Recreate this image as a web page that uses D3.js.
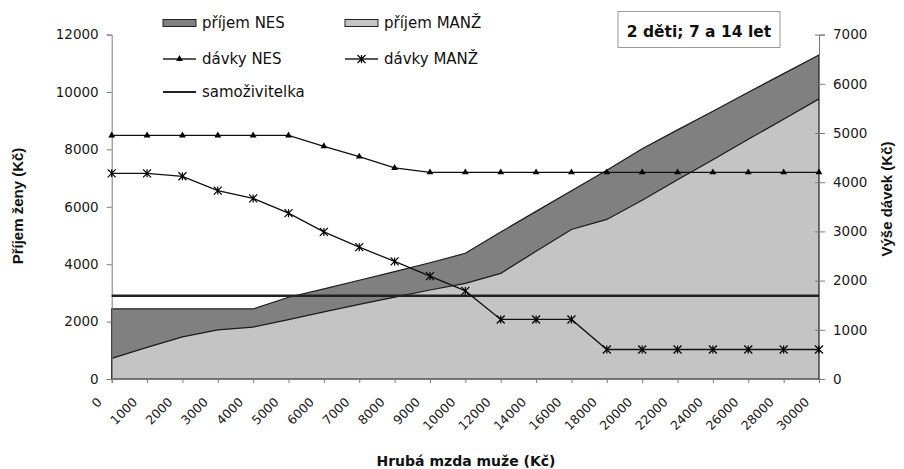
<!DOCTYPE html>
<html>
<head>
<meta charset="utf-8">
<script src="https://cdn.jsdelivr.net/npm/d3@7"></script>
<style>
  body { margin: 0; background: #fff; }
  svg { display: block; font-family: 'DejaVu Sans', sans-serif; }
</style>
</head>
<body>
<svg id="chart" width="904" height="469"></svg>
<script>
// gross wage of the man (x categories)
const wages = ['0', '1000', '2000', '3000', '4000', '5000', '6000', '7000', '8000', '9000', '10000',
  '12000', '14000', '16000', '18000', '20000', '22000', '24000', '26000', '28000', '30000'];

// woman's income, left axis
const incomeNES = [2440, 2440, 2440, 2440, 2440, 2850, 3140, 3440, 3740, 4050, 4380,
  5120, 5840, 6560, 7270, 8020, 8680, 9330, 9990, 10640, 11290];
const incomeMANZ = [720, 1100, 1470, 1710, 1810, 2070, 2340, 2600, 2850, 3100, 3330,
  3680, 4450, 5210, 5560, 6230, 6940, 7640, 8350, 9050, 9760];
const singleMother = [2900, 2900, 2900, 2900, 2900, 2900, 2900, 2900, 2900, 2900, 2900,
  2900, 2900, 2900, 2900, 2900, 2900, 2900, 2900, 2900, 2900];

// benefits, right axis
const benefitNES = [4950, 4950, 4950, 4950, 4950, 4950, 4730, 4520, 4290, 4200, 4200,
  4200, 4200, 4200, 4200, 4200, 4200, 4200, 4200, 4200, 4200];
const benefitMANZ = [4180, 4180, 4120, 3830, 3670, 3370, 2990, 2680, 2390, 2090, 1790,
  1210, 1210, 1210, 600, 600, 600, 600, 600, 600, 600];

const leftTicks = [0, 2000, 4000, 6000, 8000, 10000, 12000];
const rightTicks = [0, 1000, 2000, 3000, 4000, 5000, 6000, 7000];

var svg = d3.select('#chart');
var plotL = 111.7, plotR = 819, plotT = 34.6, plotB = 379;

var x = d3.scalePoint().domain(wages).range([plotL, plotR]);
var yL = d3.scaleLinear().domain([0, 12000]).range([plotB, plotT]);
var yR = d3.scaleLinear().domain([0, 7000]).range([plotB, plotT]);

// areas (not stacked, MANŽ drawn over NES)
var area = d3.area()
  .x((d, i) => x(wages[i]))
  .y0(yL(0))
  .y1(d => yL(d));

svg.append('path').datum(incomeNES)
  .attr('d', area)
  .attr('fill', '#808080')
  .attr('stroke', '#1a1a1a')
  .attr('stroke-width', 1.2);

svg.append('path').datum(incomeMANZ)
  .attr('d', area)
  .attr('fill', '#c4c4c4')
  .attr('stroke', '#1a1a1a')
  .attr('stroke-width', 1.2);

// axes
var axL = svg.append('g')
  .attr('transform', 'translate(' + plotL + ',0)')
  .call(d3.axisLeft(yL).tickValues(leftTicks).tickSize(5).tickPadding(8).tickFormat(d3.format('d')));
var axR = svg.append('g')
  .attr('transform', 'translate(' + plotR + ',0)')
  .call(d3.axisRight(yR).tickValues(rightTicks).tickSize(6).tickPadding(8).tickFormat(d3.format('d')));
axR.selectAll('.tick line').attr('x1', -4);
var axB = svg.append('g')
  .attr('transform', 'translate(0,' + plotB + ')')
  .call(d3.axisBottom(x).tickSize(4).tickFormat(''));

[axL, axR, axB].forEach(a => {
  a.select('.domain').attr('stroke', '#7a7a7a');
  a.selectAll('.tick line').attr('stroke', '#7a7a7a');
  a.selectAll('text').attr('fill', '#1a1a1a').style('font-family', 'DejaVu Sans').style('font-size', '13.5px');
});

// rotated wage labels
svg.append('g').selectAll('text')
  .data(wages).enter()
  .append('text')
  .attr('transform', d => 'translate(' + (x(d) - 9) + ',403) rotate(-45)')
  .attr('text-anchor', 'end')
  .attr('fill', '#1a1a1a')
  .style('font-size', '12.5px')
  .text(d => d);

// single mother line
var lineL = d3.line().x((d, i) => x(wages[i])).y(d => yL(d));
svg.append('path').datum(singleMother)
  .attr('d', lineL)
  .attr('fill', 'none')
  .attr('stroke', '#222')
  .attr('stroke-width', 2.4);

// benefit lines
var lineR = d3.line().x((d, i) => x(wages[i])).y(d => yR(d));
svg.append('path').datum(benefitNES)
  .attr('d', lineR).attr('fill', 'none').attr('stroke', '#111').attr('stroke-width', 1.3);
svg.append('path').datum(benefitMANZ)
  .attr('d', lineR).attr('fill', 'none').attr('stroke', '#111').attr('stroke-width', 1.3);

var tri = d3.symbol().type(d3.symbolTriangle).size(20);
var star = 'M-4,-4L4,4M-4,4L4,-4M0,-4L0,4';

svg.append('g').selectAll('path')
  .data(benefitNES).enter()
  .append('path')
  .attr('d', tri)
  .attr('transform', (d, i) => 'translate(' + x(wages[i]) + ',' + yR(d) + ')')
  .attr('fill', '#000');

svg.append('g').selectAll('path')
  .data(benefitMANZ).enter()
  .append('path')
  .attr('d', star)
  .attr('transform', (d, i) => 'translate(' + x(wages[i]) + ',' + yR(d) + ')')
  .attr('fill', 'none')
  .attr('stroke', '#000')
  .attr('stroke-width', 1.2);

// axis titles
svg.append('text')
  .attr('transform', 'translate(23,206) rotate(-90)')
  .attr('text-anchor', 'middle')
  .style('font-family', 'Liberation Sans, Arial, sans-serif')
  .style('font-weight', 'bold')
  .style('font-size', '15px')
  .attr('fill', '#111')
  .text('Příjem ženy (Kč)');

svg.append('text')
  .attr('transform', 'translate(892,199) rotate(-90)')
  .attr('text-anchor', 'middle')
  .style('font-family', 'Liberation Sans, Arial, sans-serif')
  .style('font-weight', 'bold')
  .style('font-size', '15px')
  .attr('fill', '#111')
  .text('Výše dávek (Kč)');

svg.append('text')
  .attr('x', 466)
  .attr('y', 466)
  .attr('text-anchor', 'middle')
  .style('font-weight', 'bold')
  .style('font-size', '14px')
  .attr('fill', '#111')
  .text('Hrubá mzda muže (Kč)');

// title box
svg.append('rect')
  .attr('x', 618).attr('y', 11.5).attr('width', 162).attr('height', 36)
  .attr('fill', '#fff').attr('stroke', '#999');
svg.append('text')
  .attr('x', 699).attr('y', 36.5)
  .attr('text-anchor', 'middle')
  .style('font-weight', 'bold')
  .style('font-size', '15.5px')
  .attr('fill', '#111')
  .text('2 děti; 7 a 14 let');

// legend
var legend = svg.append('g').style('font-size', '15px');
var items = [
  {name: 'příjem NES', kind: 'box', fill: '#808080', x: 163, y: 23},
  {name: 'příjem MANŽ', kind: 'box', fill: '#c4c4c4', x: 345, y: 23},
  {name: 'dávky NES', kind: 'tri', x: 163, y: 59},
  {name: 'dávky MANŽ', kind: 'star', x: 345, y: 59},
  {name: 'samoživitelka', kind: 'line', x: 163, y: 92}
];
items.forEach(it => {
  var g = legend.append('g').attr('transform', 'translate(' + it.x + ',' + it.y + ')');
  if (it.kind === 'box') {
    g.append('rect').attr('x', 0).attr('y', -3.5).attr('width', 33).attr('height', 7)
      .attr('fill', it.fill).attr('stroke', '#222');
  } else {
    g.append('line').attr('x1', 0).attr('x2', 33).attr('y1', 0).attr('y2', 0)
      .attr('stroke', '#222').attr('stroke-width', it.kind === 'line' ? 2 : 1.3);
    if (it.kind === 'tri') {
      g.append('path').attr('d', tri).attr('transform', 'translate(16.5,0)').attr('fill', '#000');
    } else if (it.kind === 'star') {
      g.append('path').attr('d', star).attr('transform', 'translate(16.5,0)')
        .attr('fill', 'none').attr('stroke', '#000').attr('stroke-width', 1.2);
    }
  }
  g.append('text').attr('x', 39).attr('y', 5.3).attr('fill', '#111').text(it.name);
});
</script>
</body>
</html>
